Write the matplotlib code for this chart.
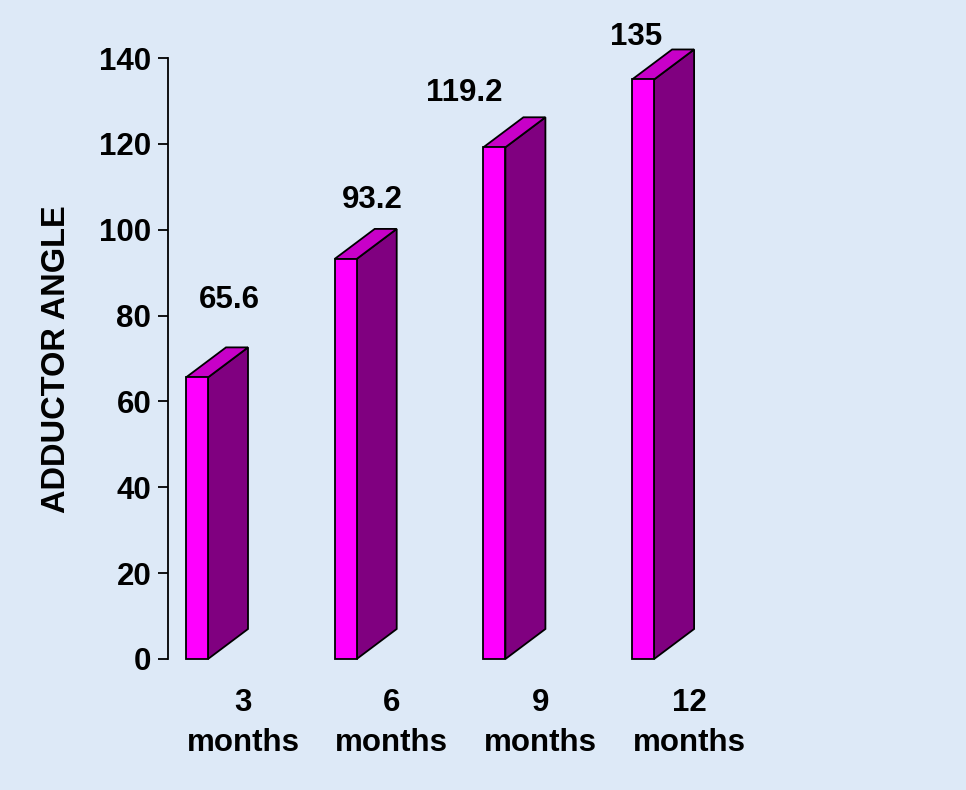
import matplotlib
matplotlib.use("Agg")
import matplotlib.pyplot as plt
from matplotlib.patches import Polygon

plt.rcParams['font.family'] = ['Liberation Sans', 'DejaVu Sans']

categories = ["3\nmonths", "6\nmonths", "9\nmonths", "12\nmonths"]
values = [65.6, 93.2, 119.2, 135]
value_labels = ["65.6", "93.2", "119.2", "135"]
label_dx = [0.22, 0.18, -0.20, -0.05]
label_dy = [18.0, 13.7, 12.6, 9.9]
yticks = [0, 20, 40, 60, 80, 100, 120, 140]

W, H = 966, 790
bg = "#DDE9F7"
front_c = "#FF00FF"
top_c = "#C800C8"
side_c = "#800080"

fig = plt.figure(figsize=(W / 100, H / 100), dpi=100, facecolor=bg)
ax_l, ax_b, ax_r, ax_t = 168, 131, 800, 732
ax = fig.add_axes([ax_l / W, ax_b / H, (ax_r - ax_l) / W, (ax_t - ax_b) / H])
ax.set_facecolor("none")

spacing = 148.7
x0 = -(197 - ax_l) / spacing
ax.set_xlim(x0, x0 + (ax_r - ax_l) / spacing)
ax.set_ylim(0, 140)

bw = 22 / spacing
dx = 40 / spacing
dy = 30 / (601 / 140)
lw = 1.3

for i, v in enumerate(values):
    xl, xr = i - bw / 2, i + bw / 2
    front = Polygon([(xl, 0), (xr, 0), (xr, v), (xl, v)], closed=True,
                    facecolor=front_c, edgecolor="black", lw=lw, clip_on=False, zorder=3)
    side = Polygon([(xr, 0), (xr + dx, dy), (xr + dx, v + dy), (xr, v)], closed=True,
                   facecolor=side_c, edgecolor="black", lw=lw, clip_on=False, zorder=3)
    top = Polygon([(xl, v), (xr, v), (xr + dx, v + dy), (xl + dx, v + dy)], closed=True,
                  facecolor=top_c, edgecolor="black", lw=lw, clip_on=False, zorder=3)
    for p in (side, top, front):
        ax.add_patch(p)
    ax.text(i + label_dx[i], v + label_dy[i], value_labels[i], ha="center", va="center",
            fontsize=22.5, fontweight="bold", color="black", clip_on=False)

for s in ("top", "right", "bottom"):
    ax.spines[s].set_visible(False)
ax.spines["left"].set_linewidth(1.3)
ax.set_yticks(yticks)
ax.set_yticklabels([str(t) for t in yticks], fontsize=22.5, fontweight="bold")
ax.tick_params(axis="y", direction="out", length=7, width=1.3, pad=5)

ax.set_xticks([i + 0.31 for i in range(len(categories))])
ax.set_xticklabels(categories, fontsize=22.5, fontweight="bold", linespacing=1.42)
ax.tick_params(axis="x", length=0, pad=21)

fig.text(57 / W, 1 - 359 / H, "ADDUCTOR ANGLE", rotation=90, ha="center", va="center",
         fontsize=23.5, fontweight="bold")

fig.savefig("out.png", dpi=100, facecolor=bg)
